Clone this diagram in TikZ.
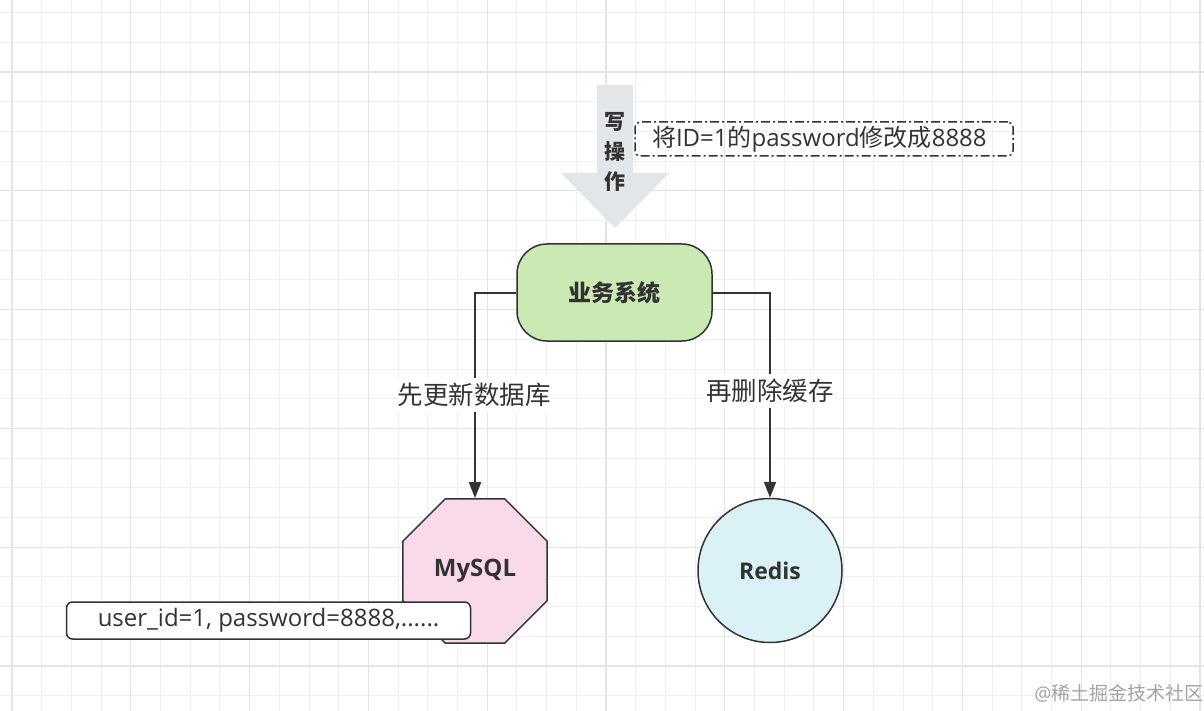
\documentclass[tikz,border=0pt]{standalone}
\usepackage{fontspec}
\setmainfont{Open Sans}
\newfontfamily\cjk{Noto Sans CJK SC}
\usetikzlibrary{arrows.meta,shapes.geometric}
\definecolor{linec}{HTML}{333333}
\definecolor{gridminor}{HTML}{F0F0F0}
\definecolor{gridmajor}{HTML}{E4E4E4}
\definecolor{bizfill}{HTML}{CBE9B2}
\definecolor{sqlfill}{HTML}{F9DAEB}
\definecolor{redisfill}{HTML}{DAF2F5}
\definecolor{bigarrow}{HTML}{E3E6E8}
\definecolor{wmgray}{HTML}{A3A3A3}
\tikzset{
  minorline/.style={draw=gridminor, line width=1pt},
  majorline/.style={draw=gridmajor, line width=1.3pt},
  shapeborder/.style={draw=linec, line width=1.5pt, text=linec},
  conn/.style={draw=linec, line width=2pt, -{Triangle[length=16pt,width=12pt]}},
  lab/.style={fill=white, text=linec, inner xsep=1pt, inner ysep=5pt, font=\cjk\fontsize{25.5}{28}\selectfont},
  dashbox/.style={draw=linec, line width=1.5pt, rounded corners=5pt, dash pattern=on 9pt off 3pt on 2pt off 3pt, text=linec},
}
\begin{document}
\begin{tikzpicture}[x=1pt,y=-1pt]
\fill[white] (0,0) rectangle (1204,711);
\useasboundingbox (0,0) rectangle (1204,711);
% grid
\foreach \i in {0,...,40}{\pgfmathsetmacro\xx{12+29.7*\i}\draw[minorline] (\xx,0) -- (\xx,711);}
\foreach \j in {0,...,23}{\pgfmathsetmacro\yy{12.6+29.7*\j}\draw[minorline] (0,\yy) -- (1204,\yy);}
\foreach \i in {0,...,10}{\pgfmathsetmacro\xx{12+118.8*\i}\draw[majorline] (\xx,0) -- (\xx,711);}
\foreach \j in {0,...,5}{\pgfmathsetmacro\yy{72+118.8*\j}\draw[majorline] (0,\yy) -- (1204,\yy);}
% big write arrow
\fill[bigarrow] (597,85) -- (633,85) -- (633,173) -- (669,173) -- (615,228) -- (561,173) -- (597,173) -- cycle;
\node[text=linec, align=center, inner sep=0pt, font=\cjk\bfseries\fontsize{21}{30}\selectfont] (write) at (615,152) {写\\操\\作};
% note box
\node[dashbox, minimum height=34pt, text width=344pt, inner xsep=17pt, inner ysep=0pt, align=left, font=\fontsize{24}{26}\selectfont] (note) at (824,139)
  {{\cjk 将}ID=1{\cjk 的}password{\cjk 修改成}8888};
% nodes
\node[shapeborder, fill=bizfill, rounded corners=30pt, minimum width=195pt, minimum height=97pt, font=\cjk\bfseries\fontsize{23}{26}\selectfont] (biz) at (614.5,292.5) {业务系统};
\node[shapeborder, fill=sqlfill, regular polygon, regular polygon sides=8, minimum size=156pt, inner sep=0pt, font=\bfseries\fontsize{24}{26}\selectfont] (mysql) at (475,571) {MySQL};
\node[shapeborder, fill=redisfill, circle, minimum size=144pt, inner sep=0pt, font=\bfseries\fontsize{23}{26}\selectfont] (redis) at (770,570.5) {Redis};
\node[shapeborder, fill=white, rounded corners=6pt, minimum width=404pt, minimum height=37pt, inner sep=0pt, font=\fontsize{24}{26}\selectfont] (user) at (268.5,620.5) {user\_id=1, password=8888,......};
% connectors
\draw[conn] (biz.west) -| (mysql.north);
\draw[conn] (biz.east) -| (redis.north);
\node[lab] (l1) at (474,395) {先更新数据库};
\node[lab] (l2) at (770,391) {再删除缓存};
% watermark
\node[text=wmgray, inner sep=0pt, font=\fontsize{19}{22}\selectfont] (wm) at (1119,693) {@{\cjk 稀土掘金技术社区}};
\end{tikzpicture}
\end{document}
